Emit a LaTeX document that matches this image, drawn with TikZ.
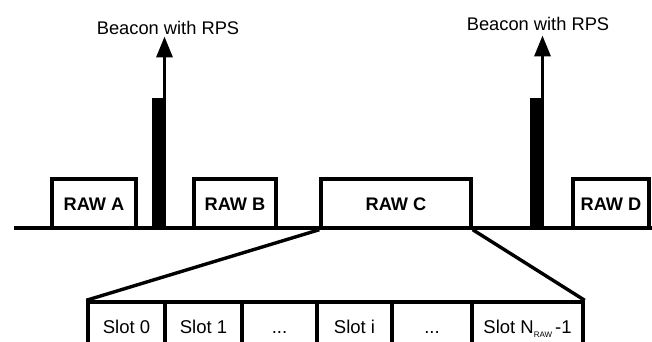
\documentclass[tikz,border=0pt]{standalone}
\usepackage{fontspec}
\setmainfont{Liberation Sans}
\usetikzlibrary{arrows.meta}
\begin{document}
\begin{tikzpicture}[x=1pt,y=-1pt,
  rawbox/.style={draw,line width=3.4pt,minimum height=49pt,inner sep=0pt,text height=13pt,text depth=0pt,font=\fontsize{18.2}{20}\selectfont\bfseries,fill=white},
  slotbox/.style={draw,line width=3.4pt,minimum height=50pt,inner sep=0pt,text height=13pt,text depth=0pt,font=\fontsize{18.5}{20}\selectfont},
  beaconbar/.style={fill=black,inner sep=0pt,minimum width=14pt,minimum height=130pt},
  beaconlabel/.style={font=\fontsize{18.3}{20}\selectfont,inner sep=0pt},
  axisline/.style={line width=3.8pt},
  fanline/.style={line width=3.4pt},
  beaconarrow/.style={line width=3.4pt,-{Triangle[length=21pt,width=16pt]}}]
\useasboundingbox (0,0) rectangle (652,342);
\clip (0,0) rectangle (652,342);
% RAW boxes
\node[rawbox,minimum width=84pt] (rawA) at (94,203.5) {RAW A};
\node[rawbox,minimum width=82pt] (rawB) at (235,203.5) {RAW B};
\node[rawbox,minimum width=150pt] (rawC) at (396,203.5) {RAW C};
\node[rawbox,minimum width=76pt] (rawD) at (611,203.5) {RAW D};
% beacon bars and arrows
\node[beaconbar] (bar1) at (159,163) {};
\node[beaconbar] (bar2) at (537,163) {};
\coordinate (tip1) at (164.5,36.5);
\coordinate (tip2) at (542.5,35.5);
\draw[beaconarrow] (tip1 |- bar1.north) -- (tip1);
\draw[beaconarrow] (tip2 |- bar2.north) -- (tip2);
\node[beaconlabel] (lab1) at (168,28) {Beacon with RPS};
\node[beaconlabel] (lab2) at (538,24) {Beacon with RPS};
% time axis
\coordinate (axL) at (14,228);
\coordinate (axR) at (652,228);
\draw[axisline] (axL) -- (axR);
% slots
\node[slotbox,minimum width=77pt] (slot0) at (126.5,327) {Slot 0};
\node[slotbox,minimum width=77pt] (slot1) at (203.5,327) {Slot 1};
\node[slotbox,minimum width=75pt] (dots1) at (279.5,327) {...};
\node[slotbox,minimum width=75pt] (sloti) at (354.5,327) {Slot i};
\node[slotbox,minimum width=80pt] (dots2) at (432,327) {...};
\node[slotbox,minimum width=111pt] (slotN) at (527.5,327) {Slot N\raisebox{-3.5pt}{\fontsize{8}{8}\selectfont RAW}\hspace{3pt}-1};
% fan lines
\draw[fanline] (rawC.south west) -- (slot0.north west);
\draw[fanline] (rawC.south east) -- (slotN.north east);
\end{tikzpicture}
\end{document}
